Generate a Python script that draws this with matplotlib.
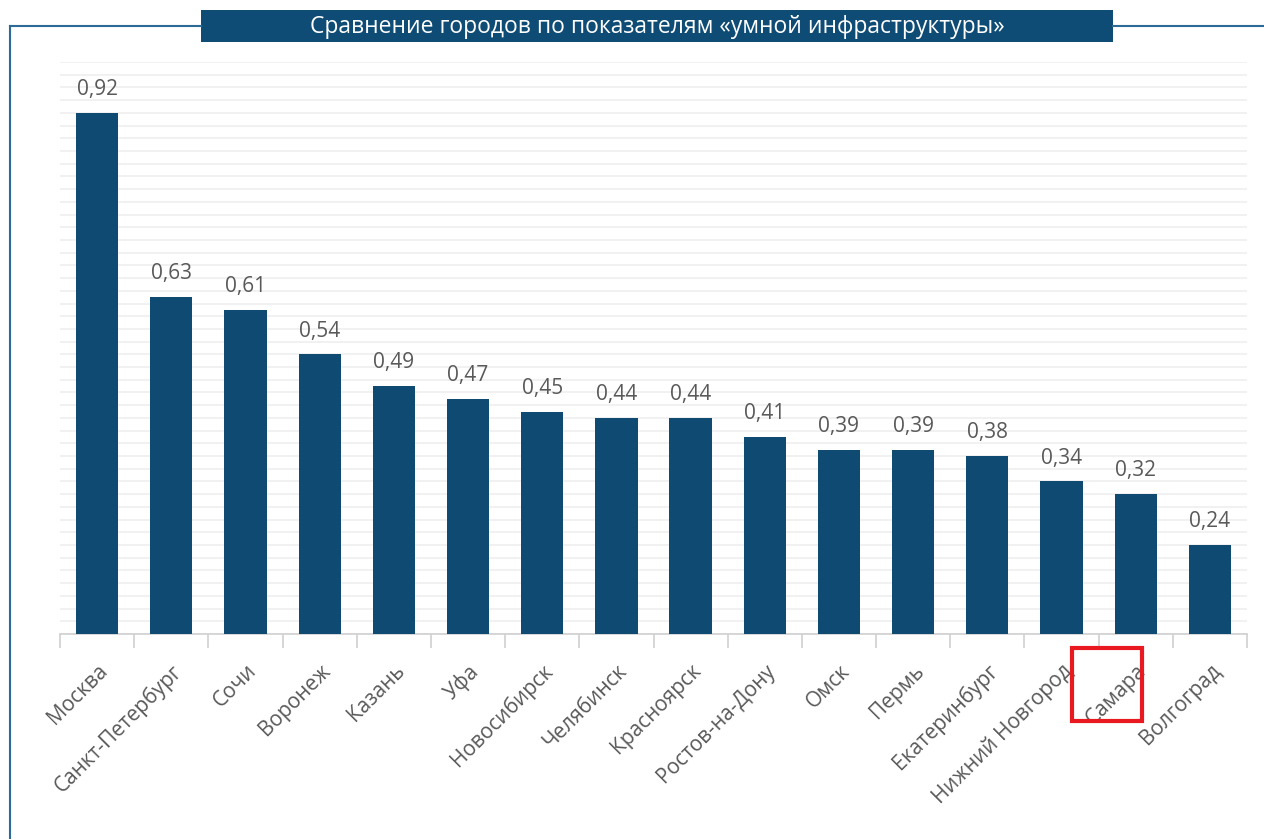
import matplotlib.pyplot as plt
from matplotlib.patches import Rectangle
from matplotlib.lines import Line2D
import numpy as np

cities = ['Москва', 'Санкт-Петербург', 'Сочи', 'Воронеж', 'Казань', 'Уфа',
          'Новосибирск', 'Челябинск', 'Красноярск', 'Ростов-на-Дону', 'Омск',
          'Пермь', 'Екатеринбург', 'Нижний Новгород', 'Самара', 'Волгоград']
values = [0.92, 0.63, 0.61, 0.54, 0.49, 0.47, 0.45, 0.44, 0.44, 0.41,
          0.39, 0.39, 0.38, 0.34, 0.32, 0.24]
title = 'Сравнение городов по показателям «умной инфраструктуры»'

bar_color = '#0e4a72'
frame_color = '#2e6a96'
text_color = '#595959'

plt.rcParams['font.family'] = ['Open Sans', 'DejaVu Sans']

fig = plt.figure(figsize=(12.64, 8.39), dpi=100)
ax = fig.add_axes([60 / 1264, 1 - 634 / 839, 1187 / 1264, 572 / 839])

x = np.arange(len(cities))
ax.bar(x, values, width=0.57, color=bar_color, zorder=3)
for xi, v in zip(x, values):
    ax.text(xi, v + 0.02, f'{v:.2f}'.replace('.', ','), ha='center', va='bottom',
            fontsize=15, color=text_color)

ax.set_xlim(-0.5, len(cities) - 0.5)
ax.set_ylim(0.1, 1.0)
ax.set_yticks(np.arange(0.1, 1.001, 0.02))
ax.yaxis.grid(True, color='#efefef', linewidth=1.2, zorder=0)
ax.tick_params(axis='y', left=False, labelleft=False)
for s in ['top', 'right', 'left']:
    ax.spines[s].set_visible(False)
ax.spines['bottom'].set_color('#d0d0d0')
ax.spines['bottom'].set_linewidth(1.2)

ax.set_xticks(x)
ax.set_xticklabels(cities, rotation=45, ha='right', rotation_mode='anchor',
                   fontsize=15, color=text_color)
ax.tick_params(axis='x', length=0, pad=19)
ax.set_xticks(np.arange(-0.5, len(cities)), minor=True)
ax.tick_params(axis='x', which='minor', length=10, color='#d0d0d0', width=1.2)

# frame lines
fig.add_artist(Line2D([10 / 1264, 10 / 1264], [0, 1 - 26 / 839], color=frame_color, lw=1.5))
fig.add_artist(Line2D([10 / 1264, 201 / 1264], [1 - 26 / 839] * 2, color=frame_color, lw=1.5))
fig.add_artist(Line2D([1113 / 1264, 1], [1 - 26 / 839] * 2, color=frame_color, lw=1.5))

# title box
fig.add_artist(Rectangle((201 / 1264, 1 - 42 / 839), 912 / 1264, 32 / 839,
                         facecolor='#0f4c75', edgecolor='none', transform=fig.transFigure))
fig.text(657 / 1264, 1 - 27 / 839, title, ha='center', va='center', color='white',
         fontsize=16.5)

# red highlight box around Самара
fig.add_artist(Rectangle((1072 / 1264, 1 - 721 / 839), 70 / 1264, 73 / 839,
                         facecolor='none', edgecolor='#e8191f', lw=3,
                         transform=fig.transFigure))

fig.savefig('out.png', dpi=100)
